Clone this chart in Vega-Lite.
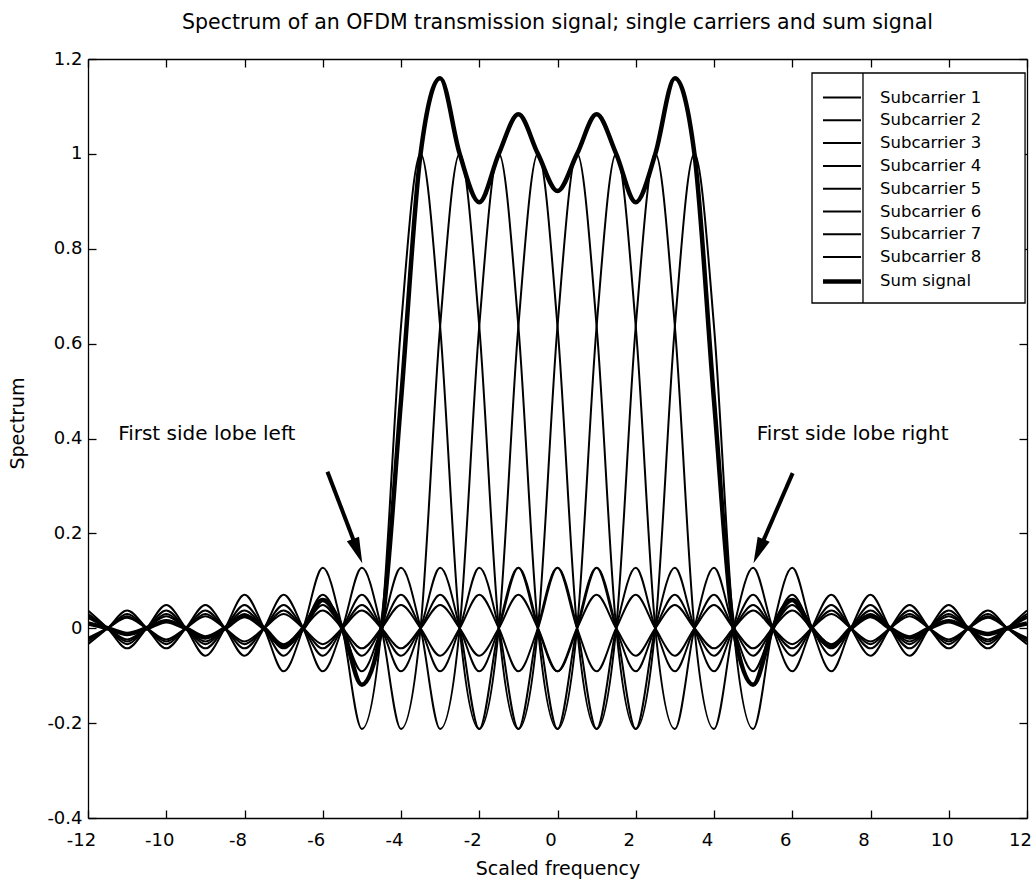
{
"$schema": "https://vega.github.io/schema/vega-lite/v6.json",
"width": 939, "height": 759,
"autosize": {"type": "none"},
"padding": {"left": 88, "top": 59, "right": 8, "bottom": 64},
"background": "white",
"title": {"text": "Spectrum of an OFDM transmission signal; single carriers and sum signal", "font": "DejaVu Sans", "fontSize": 20.5, "fontWeight": "normal", "color": "black", "offset": 17, "anchor": "middle"},
"config": {
 "view": {"stroke": null},
 "axis": {"grid": false, "domainColor": "black", "domainWidth": 1.3, "tickColor": "black", "tickWidth": 1.3, "tickSize": -8, "labelColor": "black", "titleColor": "black", "labelFont": "DejaVu Sans", "titleFont": "DejaVu Sans", "labelFontSize": 18, "titleFontSize": 19, "titleFontWeight": "normal", "labelFlush": false, "labelOverlap": false}
},
"resolve": {"axis": {"x": "independent", "y": "independent"}},
"layer": [
{
 "data": {"values": [
{"s":1,"x":-12,"y":0.0374},{"s":1,"x":-11.5,"y":0},{"s":1,"x":-11,"y":-0.0424},{"s":1,"x":-10.5,"y":0},{"s":1,"x":-10,"y":0.049},{"s":1,"x":-9.5,"y":0},{"s":1,"x":-9,"y":-0.0579},{"s":1,"x":-8.5,"y":0},{"s":1,"x":-8,"y":0.0707},{"s":1,"x":-7.5,"y":0},{"s":1,"x":-7,"y":-0.0909},{"s":1,"x":-6.5,"y":0},{"s":1,"x":-6,"y":0.1273},{"s":1,"x":-5.5,"y":0},{"s":1,"x":-5,"y":-0.2122},{"s":1,"x":-4.5,"y":0},{"s":1,"x":-4,"y":0.6366},{"s":1,"x":-3.5,"y":1},{"s":1,"x":-3,"y":0.6366},{"s":1,"x":-2.5,"y":0},{"s":1,"x":-2,"y":-0.2122},{"s":1,"x":-1.5,"y":0},{"s":1,"x":-1,"y":0.1273},{"s":1,"x":-0.5,"y":0},{"s":1,"x":0,"y":-0.0909},{"s":1,"x":0.5,"y":0},{"s":1,"x":1,"y":0.0707},{"s":1,"x":1.5,"y":0},{"s":1,"x":2,"y":-0.0579},{"s":1,"x":2.5,"y":0},{"s":1,"x":3,"y":0.049},{"s":1,"x":3.5,"y":0},{"s":1,"x":4,"y":-0.0424},{"s":1,"x":4.5,"y":0},{"s":1,"x":5,"y":0.0374},{"s":1,"x":5.5,"y":0},{"s":1,"x":6,"y":-0.0335},{"s":1,"x":6.5,"y":0},{"s":1,"x":7,"y":0.0303},{"s":1,"x":7.5,"y":0},{"s":1,"x":8,"y":-0.0277},{"s":1,"x":8.5,"y":0},{"s":1,"x":9,"y":0.0255},{"s":1,"x":9.5,"y":0},{"s":1,"x":10,"y":-0.0236},{"s":1,"x":10.5,"y":0},{"s":1,"x":11,"y":0.022},{"s":1,"x":11.5,"y":0},{"s":1,"x":12,"y":-0.0205},
{"s":2,"x":-12,"y":-0.0335},{"s":2,"x":-11.5,"y":0},{"s":2,"x":-11,"y":0.0374},{"s":2,"x":-10.5,"y":0},{"s":2,"x":-10,"y":-0.0424},{"s":2,"x":-9.5,"y":0},{"s":2,"x":-9,"y":0.049},{"s":2,"x":-8.5,"y":0},{"s":2,"x":-8,"y":-0.0579},{"s":2,"x":-7.5,"y":0},{"s":2,"x":-7,"y":0.0707},{"s":2,"x":-6.5,"y":0},{"s":2,"x":-6,"y":-0.0909},{"s":2,"x":-5.5,"y":0},{"s":2,"x":-5,"y":0.1273},{"s":2,"x":-4.5,"y":0},{"s":2,"x":-4,"y":-0.2122},{"s":2,"x":-3.5,"y":0},{"s":2,"x":-3,"y":0.6366},{"s":2,"x":-2.5,"y":1},{"s":2,"x":-2,"y":0.6366},{"s":2,"x":-1.5,"y":0},{"s":2,"x":-1,"y":-0.2122},{"s":2,"x":-0.5,"y":0},{"s":2,"x":0,"y":0.1273},{"s":2,"x":0.5,"y":0},{"s":2,"x":1,"y":-0.0909},{"s":2,"x":1.5,"y":0},{"s":2,"x":2,"y":0.0707},{"s":2,"x":2.5,"y":0},{"s":2,"x":3,"y":-0.0579},{"s":2,"x":3.5,"y":0},{"s":2,"x":4,"y":0.049},{"s":2,"x":4.5,"y":0},{"s":2,"x":5,"y":-0.0424},{"s":2,"x":5.5,"y":0},{"s":2,"x":6,"y":0.0374},{"s":2,"x":6.5,"y":0},{"s":2,"x":7,"y":-0.0335},{"s":2,"x":7.5,"y":0},{"s":2,"x":8,"y":0.0303},{"s":2,"x":8.5,"y":0},{"s":2,"x":9,"y":-0.0277},{"s":2,"x":9.5,"y":0},{"s":2,"x":10,"y":0.0255},{"s":2,"x":10.5,"y":0},{"s":2,"x":11,"y":-0.0236},{"s":2,"x":11.5,"y":0},{"s":2,"x":12,"y":0.022},
{"s":3,"x":-12,"y":0.0303},{"s":3,"x":-11.5,"y":0},{"s":3,"x":-11,"y":-0.0335},{"s":3,"x":-10.5,"y":0},{"s":3,"x":-10,"y":0.0374},{"s":3,"x":-9.5,"y":0},{"s":3,"x":-9,"y":-0.0424},{"s":3,"x":-8.5,"y":0},{"s":3,"x":-8,"y":0.049},{"s":3,"x":-7.5,"y":0},{"s":3,"x":-7,"y":-0.0579},{"s":3,"x":-6.5,"y":0},{"s":3,"x":-6,"y":0.0707},{"s":3,"x":-5.5,"y":0},{"s":3,"x":-5,"y":-0.0909},{"s":3,"x":-4.5,"y":0},{"s":3,"x":-4,"y":0.1273},{"s":3,"x":-3.5,"y":0},{"s":3,"x":-3,"y":-0.2122},{"s":3,"x":-2.5,"y":0},{"s":3,"x":-2,"y":0.6366},{"s":3,"x":-1.5,"y":1},{"s":3,"x":-1,"y":0.6366},{"s":3,"x":-0.5,"y":0},{"s":3,"x":0,"y":-0.2122},{"s":3,"x":0.5,"y":0},{"s":3,"x":1,"y":0.1273},{"s":3,"x":1.5,"y":0},{"s":3,"x":2,"y":-0.0909},{"s":3,"x":2.5,"y":0},{"s":3,"x":3,"y":0.0707},{"s":3,"x":3.5,"y":0},{"s":3,"x":4,"y":-0.0579},{"s":3,"x":4.5,"y":0},{"s":3,"x":5,"y":0.049},{"s":3,"x":5.5,"y":0},{"s":3,"x":6,"y":-0.0424},{"s":3,"x":6.5,"y":0},{"s":3,"x":7,"y":0.0374},{"s":3,"x":7.5,"y":0},{"s":3,"x":8,"y":-0.0335},{"s":3,"x":8.5,"y":0},{"s":3,"x":9,"y":0.0303},{"s":3,"x":9.5,"y":0},{"s":3,"x":10,"y":-0.0277},{"s":3,"x":10.5,"y":0},{"s":3,"x":11,"y":0.0255},{"s":3,"x":11.5,"y":0},{"s":3,"x":12,"y":-0.0236},
{"s":4,"x":-12,"y":-0.0277},{"s":4,"x":-11.5,"y":0},{"s":4,"x":-11,"y":0.0303},{"s":4,"x":-10.5,"y":0},{"s":4,"x":-10,"y":-0.0335},{"s":4,"x":-9.5,"y":0},{"s":4,"x":-9,"y":0.0374},{"s":4,"x":-8.5,"y":0},{"s":4,"x":-8,"y":-0.0424},{"s":4,"x":-7.5,"y":0},{"s":4,"x":-7,"y":0.049},{"s":4,"x":-6.5,"y":0},{"s":4,"x":-6,"y":-0.0579},{"s":4,"x":-5.5,"y":0},{"s":4,"x":-5,"y":0.0707},{"s":4,"x":-4.5,"y":0},{"s":4,"x":-4,"y":-0.0909},{"s":4,"x":-3.5,"y":0},{"s":4,"x":-3,"y":0.1273},{"s":4,"x":-2.5,"y":0},{"s":4,"x":-2,"y":-0.2122},{"s":4,"x":-1.5,"y":0},{"s":4,"x":-1,"y":0.6366},{"s":4,"x":-0.5,"y":1},{"s":4,"x":0,"y":0.6366},{"s":4,"x":0.5,"y":0},{"s":4,"x":1,"y":-0.2122},{"s":4,"x":1.5,"y":0},{"s":4,"x":2,"y":0.1273},{"s":4,"x":2.5,"y":0},{"s":4,"x":3,"y":-0.0909},{"s":4,"x":3.5,"y":0},{"s":4,"x":4,"y":0.0707},{"s":4,"x":4.5,"y":0},{"s":4,"x":5,"y":-0.0579},{"s":4,"x":5.5,"y":0},{"s":4,"x":6,"y":0.049},{"s":4,"x":6.5,"y":0},{"s":4,"x":7,"y":-0.0424},{"s":4,"x":7.5,"y":0},{"s":4,"x":8,"y":0.0374},{"s":4,"x":8.5,"y":0},{"s":4,"x":9,"y":-0.0335},{"s":4,"x":9.5,"y":0},{"s":4,"x":10,"y":0.0303},{"s":4,"x":10.5,"y":0},{"s":4,"x":11,"y":-0.0277},{"s":4,"x":11.5,"y":0},{"s":4,"x":12,"y":0.0255},
{"s":5,"x":-12,"y":0.0255},{"s":5,"x":-11.5,"y":0},{"s":5,"x":-11,"y":-0.0277},{"s":5,"x":-10.5,"y":0},{"s":5,"x":-10,"y":0.0303},{"s":5,"x":-9.5,"y":0},{"s":5,"x":-9,"y":-0.0335},{"s":5,"x":-8.5,"y":0},{"s":5,"x":-8,"y":0.0374},{"s":5,"x":-7.5,"y":0},{"s":5,"x":-7,"y":-0.0424},{"s":5,"x":-6.5,"y":0},{"s":5,"x":-6,"y":0.049},{"s":5,"x":-5.5,"y":0},{"s":5,"x":-5,"y":-0.0579},{"s":5,"x":-4.5,"y":0},{"s":5,"x":-4,"y":0.0707},{"s":5,"x":-3.5,"y":0},{"s":5,"x":-3,"y":-0.0909},{"s":5,"x":-2.5,"y":0},{"s":5,"x":-2,"y":0.1273},{"s":5,"x":-1.5,"y":0},{"s":5,"x":-1,"y":-0.2122},{"s":5,"x":-0.5,"y":0},{"s":5,"x":0,"y":0.6366},{"s":5,"x":0.5,"y":1},{"s":5,"x":1,"y":0.6366},{"s":5,"x":1.5,"y":0},{"s":5,"x":2,"y":-0.2122},{"s":5,"x":2.5,"y":0},{"s":5,"x":3,"y":0.1273},{"s":5,"x":3.5,"y":0},{"s":5,"x":4,"y":-0.0909},{"s":5,"x":4.5,"y":0},{"s":5,"x":5,"y":0.0707},{"s":5,"x":5.5,"y":0},{"s":5,"x":6,"y":-0.0579},{"s":5,"x":6.5,"y":0},{"s":5,"x":7,"y":0.049},{"s":5,"x":7.5,"y":0},{"s":5,"x":8,"y":-0.0424},{"s":5,"x":8.5,"y":0},{"s":5,"x":9,"y":0.0374},{"s":5,"x":9.5,"y":0},{"s":5,"x":10,"y":-0.0335},{"s":5,"x":10.5,"y":0},{"s":5,"x":11,"y":0.0303},{"s":5,"x":11.5,"y":0},{"s":5,"x":12,"y":-0.0277},
{"s":6,"x":-12,"y":-0.0236},{"s":6,"x":-11.5,"y":0},{"s":6,"x":-11,"y":0.0255},{"s":6,"x":-10.5,"y":0},{"s":6,"x":-10,"y":-0.0277},{"s":6,"x":-9.5,"y":0},{"s":6,"x":-9,"y":0.0303},{"s":6,"x":-8.5,"y":0},{"s":6,"x":-8,"y":-0.0335},{"s":6,"x":-7.5,"y":0},{"s":6,"x":-7,"y":0.0374},{"s":6,"x":-6.5,"y":0},{"s":6,"x":-6,"y":-0.0424},{"s":6,"x":-5.5,"y":0},{"s":6,"x":-5,"y":0.049},{"s":6,"x":-4.5,"y":0},{"s":6,"x":-4,"y":-0.0579},{"s":6,"x":-3.5,"y":0},{"s":6,"x":-3,"y":0.0707},{"s":6,"x":-2.5,"y":0},{"s":6,"x":-2,"y":-0.0909},{"s":6,"x":-1.5,"y":0},{"s":6,"x":-1,"y":0.1273},{"s":6,"x":-0.5,"y":0},{"s":6,"x":0,"y":-0.2122},{"s":6,"x":0.5,"y":0},{"s":6,"x":1,"y":0.6366},{"s":6,"x":1.5,"y":1},{"s":6,"x":2,"y":0.6366},{"s":6,"x":2.5,"y":0},{"s":6,"x":3,"y":-0.2122},{"s":6,"x":3.5,"y":0},{"s":6,"x":4,"y":0.1273},{"s":6,"x":4.5,"y":0},{"s":6,"x":5,"y":-0.0909},{"s":6,"x":5.5,"y":0},{"s":6,"x":6,"y":0.0707},{"s":6,"x":6.5,"y":0},{"s":6,"x":7,"y":-0.0579},{"s":6,"x":7.5,"y":0},{"s":6,"x":8,"y":0.049},{"s":6,"x":8.5,"y":0},{"s":6,"x":9,"y":-0.0424},{"s":6,"x":9.5,"y":0},{"s":6,"x":10,"y":0.0374},{"s":6,"x":10.5,"y":0},{"s":6,"x":11,"y":-0.0335},{"s":6,"x":11.5,"y":0},{"s":6,"x":12,"y":0.0303},
{"s":7,"x":-12,"y":0.022},{"s":7,"x":-11.5,"y":0},{"s":7,"x":-11,"y":-0.0236},{"s":7,"x":-10.5,"y":0},{"s":7,"x":-10,"y":0.0255},{"s":7,"x":-9.5,"y":0},{"s":7,"x":-9,"y":-0.0277},{"s":7,"x":-8.5,"y":0},{"s":7,"x":-8,"y":0.0303},{"s":7,"x":-7.5,"y":0},{"s":7,"x":-7,"y":-0.0335},{"s":7,"x":-6.5,"y":0},{"s":7,"x":-6,"y":0.0374},{"s":7,"x":-5.5,"y":0},{"s":7,"x":-5,"y":-0.0424},{"s":7,"x":-4.5,"y":0},{"s":7,"x":-4,"y":0.049},{"s":7,"x":-3.5,"y":0},{"s":7,"x":-3,"y":-0.0579},{"s":7,"x":-2.5,"y":0},{"s":7,"x":-2,"y":0.0707},{"s":7,"x":-1.5,"y":0},{"s":7,"x":-1,"y":-0.0909},{"s":7,"x":-0.5,"y":0},{"s":7,"x":0,"y":0.1273},{"s":7,"x":0.5,"y":0},{"s":7,"x":1,"y":-0.2122},{"s":7,"x":1.5,"y":0},{"s":7,"x":2,"y":0.6366},{"s":7,"x":2.5,"y":1},{"s":7,"x":3,"y":0.6366},{"s":7,"x":3.5,"y":0},{"s":7,"x":4,"y":-0.2122},{"s":7,"x":4.5,"y":0},{"s":7,"x":5,"y":0.1273},{"s":7,"x":5.5,"y":0},{"s":7,"x":6,"y":-0.0909},{"s":7,"x":6.5,"y":0},{"s":7,"x":7,"y":0.0707},{"s":7,"x":7.5,"y":0},{"s":7,"x":8,"y":-0.0579},{"s":7,"x":8.5,"y":0},{"s":7,"x":9,"y":0.049},{"s":7,"x":9.5,"y":0},{"s":7,"x":10,"y":-0.0424},{"s":7,"x":10.5,"y":0},{"s":7,"x":11,"y":0.0374},{"s":7,"x":11.5,"y":0},{"s":7,"x":12,"y":-0.0335},
{"s":8,"x":-12,"y":-0.0205},{"s":8,"x":-11.5,"y":0},{"s":8,"x":-11,"y":0.022},{"s":8,"x":-10.5,"y":0},{"s":8,"x":-10,"y":-0.0236},{"s":8,"x":-9.5,"y":0},{"s":8,"x":-9,"y":0.0255},{"s":8,"x":-8.5,"y":0},{"s":8,"x":-8,"y":-0.0277},{"s":8,"x":-7.5,"y":0},{"s":8,"x":-7,"y":0.0303},{"s":8,"x":-6.5,"y":0},{"s":8,"x":-6,"y":-0.0335},{"s":8,"x":-5.5,"y":0},{"s":8,"x":-5,"y":0.0374},{"s":8,"x":-4.5,"y":0},{"s":8,"x":-4,"y":-0.0424},{"s":8,"x":-3.5,"y":0},{"s":8,"x":-3,"y":0.049},{"s":8,"x":-2.5,"y":0},{"s":8,"x":-2,"y":-0.0579},{"s":8,"x":-1.5,"y":0},{"s":8,"x":-1,"y":0.0707},{"s":8,"x":-0.5,"y":0},{"s":8,"x":0,"y":-0.0909},{"s":8,"x":0.5,"y":0},{"s":8,"x":1,"y":0.1273},{"s":8,"x":1.5,"y":0},{"s":8,"x":2,"y":-0.2122},{"s":8,"x":2.5,"y":0},{"s":8,"x":3,"y":0.6366},{"s":8,"x":3.5,"y":1},{"s":8,"x":4,"y":0.6366},{"s":8,"x":4.5,"y":0},{"s":8,"x":5,"y":-0.2122},{"s":8,"x":5.5,"y":0},{"s":8,"x":6,"y":0.1273},{"s":8,"x":6.5,"y":0},{"s":8,"x":7,"y":-0.0909},{"s":8,"x":7.5,"y":0},{"s":8,"x":8,"y":0.0707},{"s":8,"x":8.5,"y":0},{"s":8,"x":9,"y":-0.0579},{"s":8,"x":9.5,"y":0},{"s":8,"x":10,"y":0.049},{"s":8,"x":10.5,"y":0},{"s":8,"x":11,"y":-0.0424},{"s":8,"x":11.5,"y":0},{"s":8,"x":12,"y":0.0374},
{"s":9,"x":-12,"y":0.0099},{"s":9,"x":-11.5,"y":0},{"s":9,"x":-11,"y":-0.012},{"s":9,"x":-10.5,"y":0},{"s":9,"x":-10,"y":0.015},{"s":9,"x":-9.5,"y":0},{"s":9,"x":-9,"y":-0.0193},{"s":9,"x":-8.5,"y":0},{"s":9,"x":-8,"y":0.026},{"s":9,"x":-7.5,"y":0},{"s":9,"x":-7,"y":-0.0373},{"s":9,"x":-6.5,"y":0},{"s":9,"x":-6,"y":0.0597},{"s":9,"x":-5.5,"y":0},{"s":9,"x":-5,"y":-0.119},{"s":9,"x":-4.5,"y":0},{"s":9,"x":-4,"y":0.4802},{"s":9,"x":-3.5,"y":1},{"s":9,"x":-3,"y":1.1592},{"s":9,"x":-2.5,"y":1},{"s":9,"x":-2,"y":0.8981},{"s":9,"x":-1.5,"y":1},{"s":9,"x":-1,"y":1.0833},{"s":9,"x":-0.5,"y":1},{"s":9,"x":0,"y":0.9216},{"s":9,"x":0.5,"y":1},{"s":9,"x":1,"y":1.0833},{"s":9,"x":1.5,"y":1},{"s":9,"x":2,"y":0.8981},{"s":9,"x":2.5,"y":1},{"s":9,"x":3,"y":1.1592},{"s":9,"x":3.5,"y":1},{"s":9,"x":4,"y":0.4802},{"s":9,"x":4.5,"y":0},{"s":9,"x":5,"y":-0.119},{"s":9,"x":5.5,"y":0},{"s":9,"x":6,"y":0.0597},{"s":9,"x":6.5,"y":0},{"s":9,"x":7,"y":-0.0373},{"s":9,"x":7.5,"y":0},{"s":9,"x":8,"y":0.026},{"s":9,"x":8.5,"y":0},{"s":9,"x":9,"y":-0.0193},{"s":9,"x":9.5,"y":0},{"s":9,"x":10,"y":0.015},{"s":9,"x":10.5,"y":0},{"s":9,"x":11,"y":-0.012},{"s":9,"x":11.5,"y":0},{"s":9,"x":12,"y":0.0099}
 ]},
 "mark": {"type": "line", "interpolate": "monotone", "clip": true, "strokeJoin": "round"},
 "encoding": {
  "x": {"field": "x", "type": "quantitative", "scale": {"domain": [-12, 12], "nice": false, "zero": false},
        "axis": {"orient": "bottom", "values": [-12,-10,-8,-6,-4,-2,0,2,4,6,8,10,12], "title": "Scaled frequency", "labelPadding": 21, "labelOffset": -7, "titlePadding": 10, "labelExpr": "datum.value < 0 ? '-' + format(-datum.value, '~g') : format(datum.value, '~g')"}},
  "y": {"field": "y", "type": "quantitative", "scale": {"domain": [-0.4, 1.2], "nice": false, "zero": false},
        "axis": {"orient": "left", "values": [-0.4,-0.2,0,0.2,0.4,0.6,0.8,1,1.2], "title": "Spectrum", "labelPadding": 14, "titlePadding": 19, "titleY": 364, "labelExpr": "datum.value < 0 ? '-' + format(-datum.value, '~g') : format(datum.value, '~g')"}},
  "color": {"field": "s", "type": "nominal", "scale": {"domain": [1,2,3,4,5,6,7,8,9], "range": ["black","black","black","black","black","black","black","black","black"]},
        "legend": {"title": null, "orient": "none", "legendX": 734, "legendY": 28, "labelExpr": "datum.label == '9' ? 'Sum signal' : 'Subcarrier ' + datum.label", "symbolType": "M-2,0H2", "symbolSize": 361, "symbolOffset": 8, "strokeColor": null, "fillColor": null, "padding": 0, "labelFont": "DejaVu Sans", "labelFontSize": 16.5, "labelColor": "black", "labelOffset": 26, "rowPadding": 3.8}},
  "strokeWidth": {"field": "s", "type": "nominal", "scale": {"type": "ordinal", "domain": [1,2,3,4,5,6,7,8,9], "range": [2,2,2,2,2,2,2,2,4.5]},
        "legend": {"title": null, "orient": "none", "legendX": 734, "legendY": 28, "labelExpr": "datum.label == '9' ? 'Sum signal' : 'Subcarrier ' + datum.label", "symbolType": "M-2,0H2", "symbolSize": 361, "symbolOffset": 8, "strokeColor": null, "fillColor": null, "padding": 0, "labelFont": "DejaVu Sans", "labelFontSize": 16.5, "labelColor": "black", "labelOffset": 26, "rowPadding": 3.8}}
 }
},
{
 "data": {"values": [{}]},
 "mark": {"type": "rect", "fill": "white", "stroke": "black", "strokeWidth": 1.3},
 "encoding": {
  "x": {"datum": 6.505, "type": "quantitative", "axis": null},
  "x2": {"datum": 11.95},
  "y": {"datum": 1.1705, "type": "quantitative", "axis": null},
  "y2": {"datum": 0.6856}
 }
},
{
 "data": {"values": [{}]},
 "mark": {"type": "rule", "color": "black", "strokeWidth": 1.3},
 "encoding": {
  "x": {"datum": 7.808, "type": "quantitative", "axis": null},
  "y": {"datum": 1.1705, "type": "quantitative", "axis": null},
  "y2": {"datum": 0.6856}
 }
},
{
 "data": {"values": [{"x": -5.88, "y": 0.33, "x2": -5.08, "y2": 0.157}, {"x": 6.01, "y": 0.327, "x2": 5.11, "y2": 0.156}]},
 "mark": {"type": "rule", "color": "black", "strokeWidth": 4},
 "encoding": {
  "x": {"field": "x", "type": "quantitative", "axis": null},
  "y": {"field": "y", "type": "quantitative", "axis": null},
  "x2": {"field": "x2"},
  "y2": {"field": "y2"}
 }
},
{
 "data": {"values": [{"x": -4.99, "y": 0.137}]},
 "mark": {"type": "point", "shape": "M0,0L-0.5,2L0.5,2Z", "filled": true, "color": "black", "opacity": 1, "size": 676, "angle": 159},
 "encoding": {
  "x": {"field": "x", "type": "quantitative", "axis": null},
  "y": {"field": "y", "type": "quantitative", "axis": null}
 }
},
{
 "data": {"values": [{"x": 5.01, "y": 0.137}]},
 "mark": {"type": "point", "shape": "M0,0L-0.5,2L0.5,2Z", "filled": true, "color": "black", "opacity": 1, "size": 676, "angle": 203},
 "encoding": {
  "x": {"field": "x", "type": "quantitative", "axis": null},
  "y": {"field": "y", "type": "quantitative", "axis": null}
 }
},
{
 "data": {"values": [{"x": -11.23, "y": 0.41, "t": "First side lobe left"}, {"x": 5.09, "y": 0.41, "t": "First side lobe right"}]},
 "mark": {"type": "text", "align": "left", "baseline": "middle", "font": "DejaVu Sans", "fontSize": 20, "color": "black"},
 "encoding": {
  "x": {"field": "x", "type": "quantitative", "axis": {"orient": "top", "values": [-12,-10,-8,-6,-4,-2,0,2,4,6,8,10,12], "labels": false, "title": null}},
  "y": {"field": "y", "type": "quantitative", "axis": {"orient": "right", "values": [-0.4,-0.2,0,0.2,0.4,0.6,0.8,1,1.2], "labels": false, "title": null}},
  "text": {"field": "t"}
 }
}
]
}
